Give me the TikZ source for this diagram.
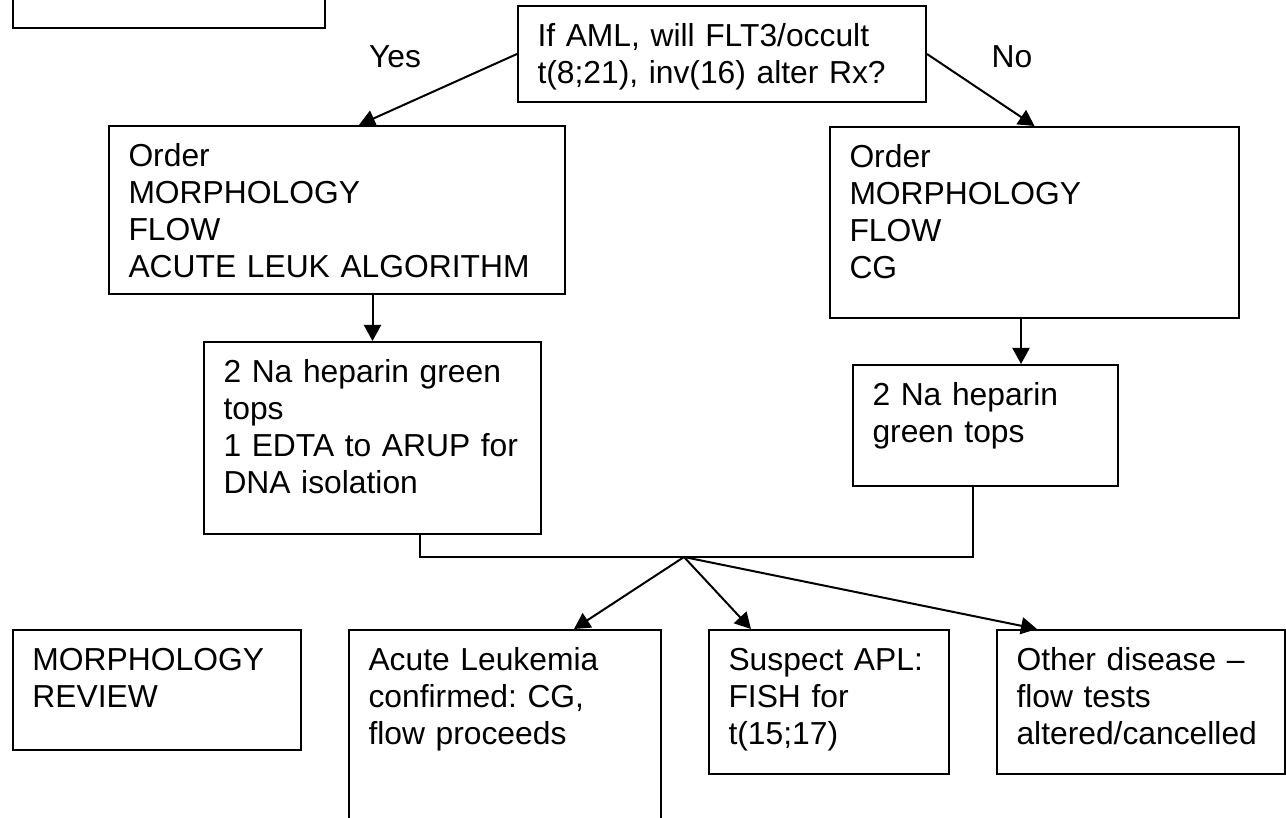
\documentclass[tikz,border=0pt]{standalone}
\usepackage{fontspec}
\setmainfont{Liberation Sans}
\usetikzlibrary{arrows.meta}
\frenchspacing

\begin{document}
\begin{tikzpicture}[x=0.5pt, y=-0.5pt, line width=1pt,
  font=\fontsize{15.9pt}{18.45pt}\selectfont,
  box/.style={draw, anchor=north west, align=left, inner xsep=9.75pt,
    inner ysep=0pt, text height=20.25pt},
  arr/.style={-{Triangle[length=8pt,width=8.5pt]}}]
\useasboundingbox (0, 0) rectangle (1286, 818);
\clip (0, 0) rectangle (1286, 818);

\node[box, minimum width=156pt, minimum height=60pt, anchor=south west] (prev) at (12, 29) {};
\node[box, text width=184.5pt, text depth=27.75pt] (q) at (517, 5)
  {If AML, will FLT3/occult\\t(8;21), inv(16) alter Rx?};

\node[box, text width=208.5pt, text depth=63.75pt] (lo) at (108, 125)
  {Order\\MORPHOLOGY\\FLOW\\ACUTE LEUK ALGORITHM};
\node[box, text width=185pt, text depth=75.25pt] (ro) at (829, 126)
  {Order\\MORPHOLOGY\\FLOW\\CG};

\node[box, text width=149pt, text depth=75.75pt] (lh) at (203, 341)
  {2 Na heparin green\\tops\\1 EDTA to ARUP for\\DNA isolation};
\node[box, text width=113pt, text depth=40.25pt] (rh) at (852, 364)
  {2 Na heparin\\green tops};

\node[box, text width=124.5pt, text depth=39.75pt] (mr) at (12, 629)
  {MORPHOLOGY\\REVIEW};
\node[box, text width=136.5pt, text depth=129.75pt] (al) at (348, 629)
  {Acute Leukemia\\confirmed: CG,\\flow proceeds};
\node[box, text width=100.5pt, text depth=51.75pt] (sa) at (708, 629)
  {Suspect APL:\\FISH for\\t(15;17)};
\node[box, text width=124.5pt, text depth=51.75pt] (od) at (996, 629)
  {Other disease \textendash\\flow tests\\altered/cancelled};

\node[anchor=base] (yes) at (395, 68) {Yes};
\node[anchor=base] (no) at (1012, 68) {No};

\coordinate (j) at (684, 557);

\draw[arr] (q.west) -- ([xshift=11pt]lo.north);
\draw[arr] (q.east) -- (ro.north);
\draw[arr] (lh.north |- lo.south) -- (lh.north);
\draw[arr] ([xshift=17.75pt]rh.north |- ro.south) -- ([xshift=17.75pt]rh.north);
\draw ([xshift=23.75pt]lh.south) |- (j) -| ([xshift=-6.25pt]rh.south);
\draw[arr] (j) -- ([xshift=34.5pt]al.north);
\draw[arr] (j) -- ([xshift=-39pt]sa.north);
\draw[arr] (j) -- ([xshift=-52pt]od.north);
\end{tikzpicture}
\end{document}
